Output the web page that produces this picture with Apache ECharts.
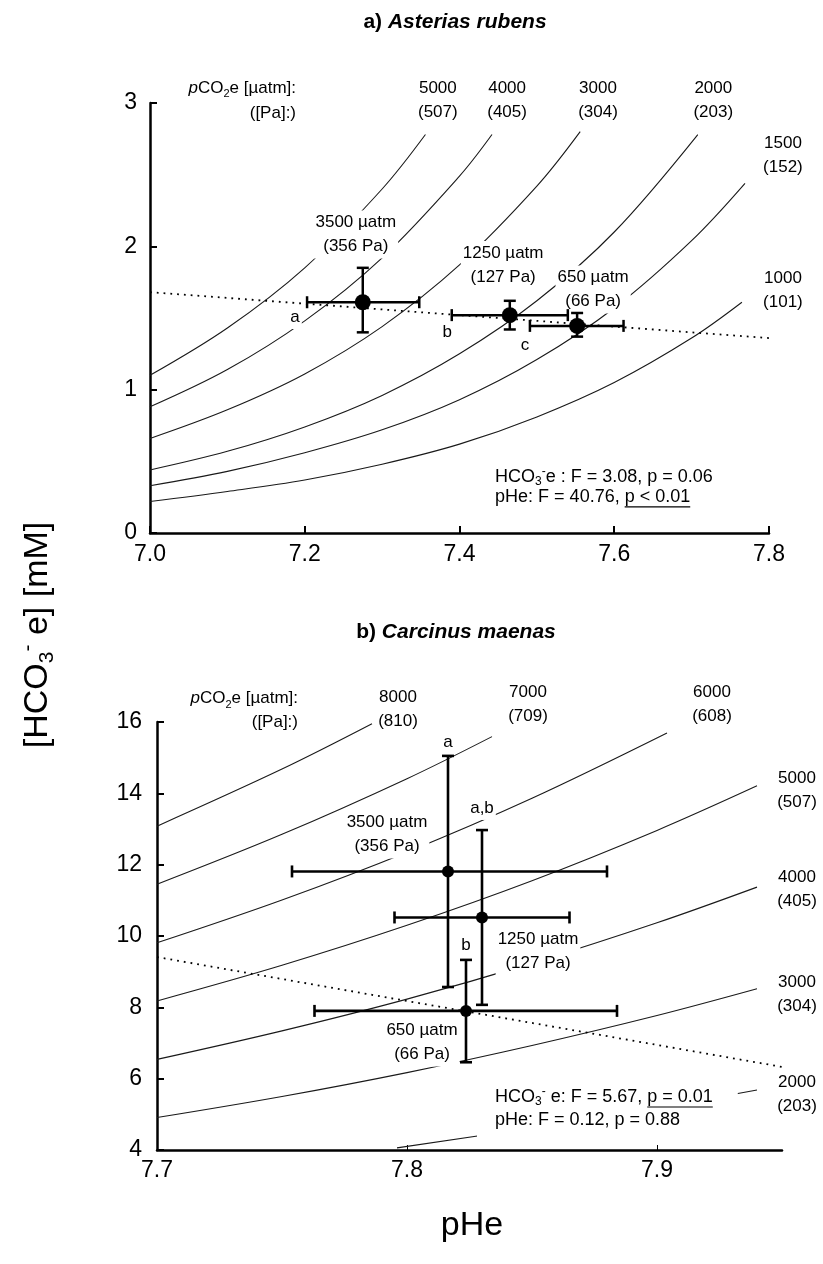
<!DOCTYPE html>
<html>
<head>
<meta charset="utf-8">
<script src="https://cdn.jsdelivr.net/npm/echarts@6/dist/echarts.min.js"></script>
<style>
html,body{margin:0;padding:0;background:#fff;}
#chart{width:823px;height:1264px;}
</style>
</head>
<body>
<div id="chart"></div>
<script>
// ================= Panel a: Asterias rubens =================
const aXTicks = [7.0, 7.2, 7.4, 7.6, 7.8];
const aYTicks = [0, 1, 2, 3];
const aIsoNames = ['5000', '4000', '3000', '2000', '1500', '1000'];
const aIsoPa = ['(507)', '(405)', '(304)', '(203)', '(152)', '(101)'];
const aIso5000 = [[7.0, 1.10], [7.1, 1.43], [7.2, 1.85], [7.3, 2.40], [7.356, 2.78]];
const aIso4000 = [[7.0, 0.88], [7.1, 1.14], [7.2, 1.48], [7.3, 1.92], [7.4, 2.49], [7.442, 2.78]];
const aIso3000 = [[7.0, 0.66], [7.1, 0.86], [7.2, 1.11], [7.3, 1.44], [7.4, 1.87], [7.5, 2.42], [7.556, 2.80]];
const aIso2000 = [[7.0, 0.44], [7.1, 0.57], [7.2, 0.74], [7.3, 0.96], [7.4, 1.25], [7.5, 1.62], [7.6, 2.10], [7.708, 2.78]];
const aIso1500 = [[7.0, 0.33], [7.1, 0.43], [7.2, 0.56], [7.3, 0.72], [7.4, 0.93], [7.5, 1.21], [7.6, 1.57], [7.7, 2.04], [7.769, 2.44]];
const aIso1000 = [[7.0, 0.22], [7.1, 0.29], [7.2, 0.37], [7.3, 0.48], [7.4, 0.62], [7.5, 0.81], [7.6, 1.05], [7.7, 1.36], [7.765, 1.61]];
const aPtNames = ['3500 µatm', '1250 µatm', '650 µatm'];
const aPtPa = ['(356 Pa)', '(127 Pa)', '(66 Pa)'];
const aPtX = [7.275, 7.465, 7.552];
const aPtY = [1.61, 1.52, 1.445];
const aPtXLo = [7.203, 7.390, 7.491];
const aPtXHi = [7.348, 7.540, 7.612];
const aPtYLo = [1.40, 1.42, 1.37];
const aPtYHi = [1.85, 1.62, 1.535];
const aLetters = ['a', 'b', 'c'];
const aRegression = [[7.0, 1.68], [7.8, 1.36]];
const aStatLines = [
  [['HCO', 'n'], ['3', 'sub'], ['-', 'sup'], ['e : F = 3.08, p = 0.06', 'n']],
  [['pHe: F = 40.76, ', 'n'], ['p < 0.01', 'u']]
];

// ================= Panel b: Carcinus maenas =================
const bXTicks = [7.7, 7.8, 7.9];
const bYTicks = [4, 6, 8, 10, 12, 14, 16];
const bIsoNames = ['8000', '7000', '6000', '5000', '4000', '3000', '2000'];
const bIsoPa = ['(810)', '(709)', '(608)', '(507)', '(405)', '(304)', '(203)'];
const bIso8000 = [[7.70, 13.08], [7.75, 14.68], [7.786, 15.95]];
const bIso7000 = [[7.70, 11.45], [7.75, 12.85], [7.80, 14.41], [7.834, 15.59]];
const bIso6000 = [[7.70, 9.81], [7.75, 11.01], [7.80, 12.35], [7.85, 13.86], [7.904, 15.69]];
const bIso5000 = [[7.70, 8.18], [7.75, 9.18], [7.80, 10.30], [7.85, 11.55], [7.90, 12.96], [7.94, 14.21]];
const bIso4000 = [[7.70, 6.54], [7.75, 7.34], [7.80, 8.23], [7.85, 9.24], [7.90, 10.37], [7.94, 11.37]];
const bIso3000 = [[7.70, 4.91], [7.75, 5.50], [7.80, 6.17], [7.85, 6.93], [7.90, 7.77], [7.94, 8.52]];
const bIso2000 = [[7.796, 4.06], [7.85, 4.62], [7.90, 5.18], [7.94, 5.68]];
const bPtNames = ['3500 µatm', '1250 µatm', '650 µatm'];
const bPtPa = ['(356 Pa)', '(127 Pa)', '(66 Pa)'];
const bPtX = [7.8164, 7.830, 7.8236];
const bPtY = [11.81, 10.52, 7.90];
const bPtXLo = [7.754, 7.795, 7.763];
const bPtXHi = [7.880, 7.865, 7.884];
const bPtYLo = [8.57, 8.07, 6.46];
const bPtYHi = [15.05, 12.97, 9.33];
const bLetters = ['a', 'a,b', 'b'];
const bRegression = [[7.7, 9.41], [7.95, 6.33]];
const bStatLines = [
  [['HCO', 'n'], ['3', 'sub'], ['-', 'sup'], [' e: F = 5.67, ', 'n'], ['p = 0.01', 'u']],
  [['pHe: F = 0.12, p = 0.88', 'n']]
];

// ================= Layout (annotation anchors, in data units) =================
const LAYOUT = {
  a: {
    isoLabelAt: [[7.372, 3.022], [7.4615, 3.022], [7.579, 3.022], [7.728, 3.022], [7.818, 2.634], [7.818, 1.692]],
    headAt: [7.1913, 3.105], headPaAt: [7.1913, 2.931],
    ptLabelAt: [[7.266, 2.083], [7.4564, 1.870], [7.5727, 1.699]],
    letterAt: [[7.1875, 1.507], [7.384, 1.403], [7.4848, 1.312]],
    statAt: [7.446, 0.391], statGap: 20
  },
  b: {
    isoLabelAt: [[7.7964, 16.35], [7.8484, 16.49], [7.922, 16.49], [7.956, 14.08], [7.956, 11.30], [7.956, 8.37], [7.956, 5.556]],
    headAt: [7.7572, 16.672], headPaAt: [7.7572, 16.0],
    ptLabelAt: [[7.792, 12.845], [7.8524, 9.565], [7.806, 7.014]],
    letterAt: [[7.8164, 15.44], [7.83, 13.59], [7.8236, 9.75]],
    statAt: [7.8352, 5.486], statGap: 23
  }
};

const FONT = '"Liberation Sans", Arial, Helvetica, sans-serif';
const RICH = {
  i: {fontStyle: 'italic', fontSize: 17, fontFamily: FONT, color: '#000'},
  sub: {fontSize: 11, fontFamily: FONT, verticalAlign: 'bottom', color: '#000'},
  sup: {fontSize: 11, fontFamily: FONT, verticalAlign: 'top', color: '#000'}
};

const chart = echarts.init(document.getElementById('chart'), null, {renderer: 'canvas'});

function axisX(gi, min, max, interval, ticks, tickLen, tickW, margin) {
  return {
    gridIndex: gi, type: 'value', min: min, max: max, interval: interval,
    axisLine: {show: true, onZero: false, lineStyle: {color: '#000', width: 2.5}},
    axisTick: {show: true, inside: true, length: tickLen, customValues: ticks, lineStyle: {color: '#000', width: tickW}},
    axisLabel: {show: true, customValues: ticks, margin: margin, color: '#000', fontSize: 23, fontFamily: FONT,
      formatter: v => Number(v).toFixed(1)},
    splitLine: {show: false}
  };
}
function axisY(gi, min, max, interval, ticks, margin) {
  return {
    gridIndex: gi, type: 'value', min: min, max: max, interval: interval,
    axisLine: {show: true, onZero: false, lineStyle: {color: '#000', width: 2.5}},
    axisTick: {show: true, inside: true, length: 7, customValues: ticks, lineStyle: {color: '#000', width: 2}},
    axisLabel: {show: true, customValues: ticks, margin: margin, color: '#000', fontSize: 23, fontFamily: FONT},
    splitLine: {show: false}
  };
}
function curve(gi, data) {
  return {type: 'line', xAxisIndex: gi, yAxisIndex: gi, data: data, smooth: 0.35, showSymbol: false, symbol: 'none',
    silent: true, z: 2, lineStyle: {color: '#1a1a1a', width: 1.1}};
}
function dotted(gi, data) {
  return {type: 'line', xAxisIndex: gi, yAxisIndex: gi, data: data, showSymbol: false, symbol: 'none',
    silent: true, z: 3, lineStyle: {color: '#000', width: 1.8, type: [1.8, 5]}};
}
function notes(gi, items) {
  return {
    type: 'scatter', xAxisIndex: gi, yAxisIndex: gi, symbolSize: 0, clip: false, silent: true, z: 5,
    itemStyle: {opacity: 1},
    emphasis: {disabled: true},
    data: items.map(n => ({value: [n.x, n.y], label: {formatter: n.t, align: n.align || 'center'}})),
    label: {show: true, position: 'inside', color: '#000', opacity: 1, fontFamily: FONT, fontSize: 17, lineHeight: 24,
      backgroundColor: '#fff', padding: [0, 2], rich: RICH}
  };
}
function errBars(gi, xs, ys, xlo, xhi, ylo, yhi, cap, r, lw) {
  return {
    type: 'custom', xAxisIndex: gi, yAxisIndex: gi, silent: true, z: 10,
    encode: {x: [0, 2, 3], y: [1, 4, 5]},
    data: xs.map((x, i) => [x, ys[i], xlo[i], xhi[i], ylo[i], yhi[i]]),
    renderItem: function (params, api) {
      const x = api.value(0), y = api.value(1);
      const c = api.coord([x, y]);
      const L = api.coord([api.value(2), y]), R = api.coord([api.value(3), y]);
      const lo = api.coord([x, api.value(4)]), hi = api.coord([x, api.value(5)]);
      const st = {stroke: '#000', lineWidth: lw, fill: null};
      return {type: 'group', children: [
        {type: 'line', shape: {x1: L[0], y1: c[1], x2: R[0], y2: c[1]}, style: st},
        {type: 'line', shape: {x1: L[0], y1: c[1] - cap, x2: L[0], y2: c[1] + cap}, style: st},
        {type: 'line', shape: {x1: R[0], y1: c[1] - cap, x2: R[0], y2: c[1] + cap}, style: st},
        {type: 'line', shape: {x1: c[0], y1: lo[1], x2: c[0], y2: hi[1]}, style: st},
        {type: 'line', shape: {x1: c[0] - cap, y1: lo[1], x2: c[0] + cap, y2: lo[1]}, style: st},
        {type: 'line', shape: {x1: c[0] - cap, y1: hi[1], x2: c[0] + cap, y2: hi[1]}, style: st},
        {type: 'circle', shape: {cx: c[0], cy: c[1], r: r}, style: {fill: '#000'}}
      ]};
    }
  };
}
function buildNotes(L, isoNames, isoPa, ptNames, ptPa, letters) {
  const items = [];
  items.push({x: L.headAt[0], y: L.headAt[1], t: '{i|p}CO{sub|2}e [µatm]:', align: 'right'});
  items.push({x: L.headPaAt[0], y: L.headPaAt[1], t: '([Pa]:)', align: 'right'});
  isoNames.forEach((n, i) => items.push({x: L.isoLabelAt[i][0], y: L.isoLabelAt[i][1], t: n + '\n' + isoPa[i]}));
  ptNames.forEach((n, i) => items.push({x: L.ptLabelAt[i][0], y: L.ptLabelAt[i][1], t: n + '\n' + ptPa[i]}));
  letters.forEach((n, i) => items.push({x: L.letterAt[i][0], y: L.letterAt[i][1], t: n}));
  return items;
}

const option = {
  animation: false,
  backgroundColor: '#fff',
  grid: [
    {left: 150, top: 103, width: 619, height: 430},
    {left: 157, top: 722, width: 625, height: 428}
  ],
  xAxis: [
    axisX(0, 7.0, 7.8, 0.2, aXTicks, 7, 2, 10),
    axisX(1, 7.7, 7.95, 0.1, bXTicks, 5, 1, 9)
  ],
  yAxis: [
    axisY(0, 0, 3, 1, aYTicks, 13),
    axisY(1, 4, 16, 2, bYTicks, 15)
  ],
  series: [
    curve(0, aIso5000), curve(0, aIso4000), curve(0, aIso3000), curve(0, aIso2000), curve(0, aIso1500), curve(0, aIso1000),
    dotted(0, aRegression),
    notes(0, buildNotes(LAYOUT.a, aIsoNames, aIsoPa, aPtNames, aPtPa, aLetters)),
    errBars(0, aPtX, aPtY, aPtXLo, aPtXHi, aPtYLo, aPtYHi, 6, 8, 2.5),
    curve(1, bIso8000), curve(1, bIso7000), curve(1, bIso6000), curve(1, bIso5000), curve(1, bIso4000), curve(1, bIso3000), curve(1, bIso2000),
    dotted(1, bRegression),
    notes(1, buildNotes(LAYOUT.b, bIsoNames, bIsoPa, bPtNames, bPtPa, bLetters)),
    errBars(1, bPtX, bPtY, bPtXLo, bPtXHi, bPtYLo, bPtYHi, 6, 6, 2.6)
  ]
};
chart.setOption(option);

// ---------- text overlays (titles, axis names, statistics) ----------
const ctx2d = document.createElement('canvas').getContext('2d');
const STAT_SIZE = {n: 18, u: 18, sub: 12, sup: 12};
function textW(s, size) { ctx2d.font = size + 'px ' + FONT; return ctx2d.measureText(s).width; }
const STAT_RICH = {
  n: {fontSize: 18, fontFamily: FONT, lineHeight: 22, fill: '#000', color: '#000'},
  u: {fontSize: 18, fontFamily: FONT, lineHeight: 22, fill: '#000', color: '#000'},
  sub: {fontSize: 12, fontFamily: FONT, verticalAlign: 'bottom', fill: '#000', color: '#000'},
  sup: {fontSize: 12, fontFamily: FONT, verticalAlign: 'top', fill: '#000', color: '#000'}
};
function statGraphics(gi, L, lines, mask) {
  const out = [];
  const p0 = chart.convertToPixel({gridIndex: gi}, L.statAt);
  let maxW = 0;
  lines.forEach((tokens, li) => {
    const y = p0[1] + li * L.statGap;
    let x = p0[0];
    const str = tokens.map(t => '{' + t[1] + '|' + t[0] + '}').join('');
    out.push({type: 'text', z: 120, style: {x: p0[0], y: y, text: str, rich: STAT_RICH,
      textAlign: 'left', align: 'left', textVerticalAlign: 'middle', verticalAlign: 'middle', fill: '#000'}});
    tokens.forEach(t => {
      const w = textW(t[0], STAT_SIZE[t[1]]);
      if (t[1] === 'u') {
        out.push({type: 'line', z: 120, shape: {x1: x, y1: y + 10, x2: x + w, y2: y + 10}, style: {stroke: '#000', lineWidth: 1.2}});
      }
      x += w;
    });
    maxW = Math.max(maxW, x - p0[0]);
  });
  if (mask) {
    out.push({type: 'rect', z: 110, shape: {x: p0[0] - 18, y: p0[1] - 12, width: maxW + 43, height: L.statGap + 32},
      style: {fill: '#fff'}});
  }
  return out;
}

const graphics = [];
graphics.push({type: 'text', z: 120, style: {x: 455, y: 22, text: '{b|a) }{bi|Asterias rubens}',
  rich: {b: {fontSize: 21, fontWeight: 'bold', fontFamily: FONT}, bi: {fontSize: 21, fontWeight: 'bold', fontStyle: 'italic', fontFamily: FONT}},
  textAlign: 'center', align: 'center', textVerticalAlign: 'middle', verticalAlign: 'middle'}});
graphics.push({type: 'text', z: 120, style: {x: 456, y: 632, text: '{b|b) }{bi|Carcinus maenas}',
  rich: {b: {fontSize: 21, fontWeight: 'bold', fontFamily: FONT}, bi: {fontSize: 21, fontWeight: 'bold', fontStyle: 'italic', fontFamily: FONT}},
  textAlign: 'center', align: 'center', textVerticalAlign: 'middle', verticalAlign: 'middle'}});
graphics.push({type: 'text', z: 120, x: 38, y: 635, rotation: Math.PI / 2,
  style: {x: 0, y: 0, text: '{n|[HCO}{sub|3}{sup|-}{n| e] [mM]}',
    rich: {n: {fontSize: 34, fontFamily: FONT, lineHeight: 40}, sub: {fontSize: 21, fontFamily: FONT, verticalAlign: 'bottom'},
      sup: {fontSize: 21, fontFamily: FONT, verticalAlign: 'top'}},
    textAlign: 'center', align: 'center', textVerticalAlign: 'middle', verticalAlign: 'middle'}});
graphics.push({type: 'text', z: 120, style: {x: 472, y: 1226, text: 'pHe', font: '34px ' + FONT,
  textAlign: 'center', align: 'center', textVerticalAlign: 'middle', verticalAlign: 'middle', fill: '#000'}});
statGraphics(0, LAYOUT.a, aStatLines, false).forEach(g => graphics.push(g));
statGraphics(1, LAYOUT.b, bStatLines, true).forEach(g => graphics.push(g));
chart.setOption({graphic: {elements: graphics}});
</script>
</body>
</html>
